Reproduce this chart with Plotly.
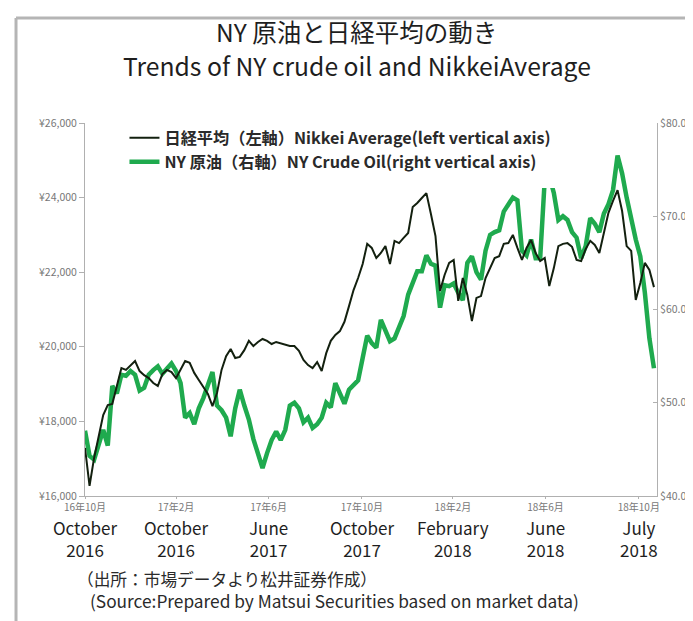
import plotly.graph_objects as go
import pandas as pd

# ---- data ----
start_date = "2016-11-01"
step = "6D"
nikkei = [17290, 16270, 17020, 17555, 18170, 18440, 18470, 18950, 19430, 19380,
          19510, 19620, 19350, 19240, 19160, 19030, 18950, 19270, 19380, 19320,
          19160, 19380, 19620, 19570, 19300, 19110, 18920, 18735, 18410, 18760,
          19380, 19750, 19940, 19700, 19730, 19910, 20160, 20020, 20130, 20210,
          20160, 20075, 20130, 20100, 20050, 20020, 20020, 19890, 19650, 19510,
          19430, 19590, 19350, 19830, 20160, 20320, 20420, 20670, 21090, 21520,
          21845, 22220, 22760, 22650, 22380, 22515, 22700, 22220, 22840, 22780,
          22920, 23050, 23750, 23855, 23990, 24120, 23560, 22970, 21500, 21925,
          22250, 22330, 21230, 21845, 21390, 20690, 21310, 21360, 21845, 22110,
          22380, 22430, 22760, 22780, 23000, 22650, 22330, 22650, 22860, 22515,
          22300, 22380, 21630, 22110, 22700, 22760, 22780, 22680, 22330, 22300,
          22620, 22840, 22730, 22515, 23050, 23590, 23910, 24200, 23640, 22700,
          22570, 21255, 21710, 22250, 22060, 21600]
wti = [47.0, 44.3, 43.9, 45.7, 47.1, 45.4, 51.8, 51.0, 53.0, 52.9,
       53.4, 53.0, 51.3, 51.6, 53.0, 53.5, 53.9, 53.1, 53.6, 54.2,
       53.4, 52.1, 48.4, 48.9, 47.7, 49.4, 50.5, 52.1, 53.3, 49.7,
       49.2, 48.4, 46.4, 49.4, 51.4, 49.7, 48.2, 46.1, 44.6, 43.0,
       44.6, 46.0, 46.9, 46.0, 47.1, 49.7, 50.0, 49.4, 47.9, 48.4,
       47.3, 47.7, 48.4, 50.0, 49.5, 52.1, 51.0, 49.9, 51.4, 51.9,
       52.4, 54.8, 57.2, 56.4, 55.9, 58.9, 57.7, 56.6, 56.9, 58.2,
       59.3, 61.6, 62.8, 64.1, 64.1, 65.8, 64.9, 64.7, 60.2, 62.6,
       62.5, 62.8, 61.8, 61.0, 65.0, 65.7, 64.0, 63.2, 66.3, 68.0,
       68.3, 68.5, 70.5, 71.2, 72.0, 71.7, 66.3, 65.8, 67.5, 65.5,
       65.5, 73.9, 74.3, 72.5, 69.6, 70.0, 69.6, 68.3, 67.7, 65.5,
       66.8, 69.8, 69.2, 68.3, 70.3, 71.3, 72.8, 76.5, 74.6, 72.0,
       69.6, 67.5, 65.7, 61.8, 56.9, 53.7]
dates = pd.date_range(start_date, periods=len(nikkei), freq=step)

tick_dates = ["2016-11-01", "2017-03-01", "2017-07-01", "2017-11-01",
              "2018-03-01", "2018-07-01", "2018-11-01"]
tick_labels_jp = ["16年10月", "17年2月", "17年6月", "17年10月", "18年2月", "18年6月", "18年10月"]
tick_labels_en = ["October<br>2016", "October<br>2016", "June<br>2017", "October<br>2017",
                  "February<br>2018", "June<br>2018", "July<br>2018"]
x_range = ["2016-11-01", "2018-11-25"]

yen_ticks = [16000, 18000, 20000, 22000, 24000, 26000]
yen_labels = ["¥16,000", "¥18,000", "¥20,000", "¥22,000", "¥24,000", "¥26,000"]
usd_ticks = [40, 50, 60, 70, 80]
usd_labels = ["$40.0", "$50.0", "$60.0", "$70.0", "$80.0"]

FONT = "Noto Sans CJK JP"
BLACK = "#13200f"
GREEN = "#1faa4e"
AX = "#b0b0b0"

fig = go.Figure()
fig.add_trace(go.Scatter(x=dates, y=nikkei, mode="lines", yaxis="y2", legendgroup="a",
                         name="日経平均（左軸）Nikkei Average(left vertical axis)",
                         line=dict(color=BLACK, width=2)))
fig.add_trace(go.Scatter(x=dates, y=wti, mode="lines", yaxis="y", legendgroup="b",
                         name="NY 原油（右軸）NY Crude Oil(right vertical axis)",
                         line=dict(color=GREEN, width=4.5)))

fig.update_layout(
    width=693, height=621,
    margin=dict(l=77, r=44, t=115, b=133),
    paper_bgcolor="white", plot_bgcolor="white",
    font=dict(family=FONT, color="#333"),
    showlegend=True,
    legend=dict(x=0.069, y=1.006, xanchor="left", yanchor="top",
                bgcolor="rgba(255,255,255,1)",
                font=dict(size=16.2, color="#2a2a2a", family=FONT, weight="bold"),
                traceorder="normal", itemwidth=30, tracegroupgap=2),
    xaxis=dict(type="date", range=x_range, tickvals=tick_dates, ticktext=tick_labels_jp,
               showgrid=False, zeroline=False, showline=True, linecolor=AX, linewidth=1,
               ticks="outside", ticklen=2, tickcolor=AX,
               tickfont=dict(size=10, color="#777", family=FONT)),
    yaxis=dict(range=[40, 80], tickvals=usd_ticks, ticktext=usd_labels,
               side="right", showgrid=False, zeroline=False, showline=True, linecolor=AX,
               ticks="inside", ticklen=4, tickcolor=AX,
               tickfont=dict(size=10.5, color="#777", family=FONT)),
    yaxis2=dict(range=[16000, 26000], tickvals=yen_ticks, ticktext=yen_labels,
                overlaying="y", side="left",
                showgrid=False, zeroline=False, showline=True, linecolor=AX,
                ticks="outside", ticklen=5, tickcolor=AX,
                tickfont=dict(size=10.5, color="#777", family=FONT)),
)

# white backing behind the legend (hides the line there, as in the reference)
fig.add_shape(type="rect", xref="paper", yref="paper", x0=0.075, x1=0.84, y0=0.826, y1=1.0,
              fillcolor="white", line=dict(width=0), layer="above")

# outer grey frame (top and left edges)
fig.add_shape(type="line", xref="paper", yref="paper", x0=-0.1206, x1=1.08, y0=1.2815, y1=1.2815,
              line=dict(color="#b5b5b5", width=3))
fig.add_shape(type="line", xref="paper", yref="paper", x0=-0.1206, x1=-0.1206, y0=-0.36, y1=1.2815,
              line=dict(color="#b5b5b5", width=3))

# titles
fig.add_annotation(text="NY 原油と日経平均の動き", xref="paper", yref="paper", x=0.474, y=1.2466,
                   xanchor="center", yanchor="middle", showarrow=False,
                   font=dict(size=24.5, color="#1e1e1e", family=FONT))
fig.add_annotation(text="Trends of NY crude oil and NikkeiAverage", xref="paper", yref="paper",
                   x=0.476, y=1.1555, xanchor="center", yanchor="middle", showarrow=False,
                   font=dict(size=24.7, color="#1e1e1e", family=FONT))

# English tick captions under the Japanese month labels
for d, t in zip(tick_dates, tick_labels_en):
    fig.add_annotation(text=t, x=d, xref="x", yref="paper", y=-0.0475, xanchor="center",
                       yanchor="top", showarrow=False, align="center", borderpad=0,
                       font=dict(size=17, color="#1e1e1e", family=FONT))

# source notes
fig.add_annotation(text="（出所：市場データより松井証券作成）", xref="paper", yref="paper",
                   x=-0.0175, y=-0.222, xanchor="left", yanchor="middle", showarrow=False,
                   font=dict(size=16.7, color="#2a2a2a", family=FONT))
fig.add_annotation(text="(Source:Prepared by Matsui Securities based on market data)",
                   xref="paper", yref="paper", x=0.0045, y=-0.281, xanchor="left",
                   yanchor="middle", showarrow=False,
                   font=dict(size=17.3, color="#2a2a2a", family=FONT))

fig.write_html("out.html")
